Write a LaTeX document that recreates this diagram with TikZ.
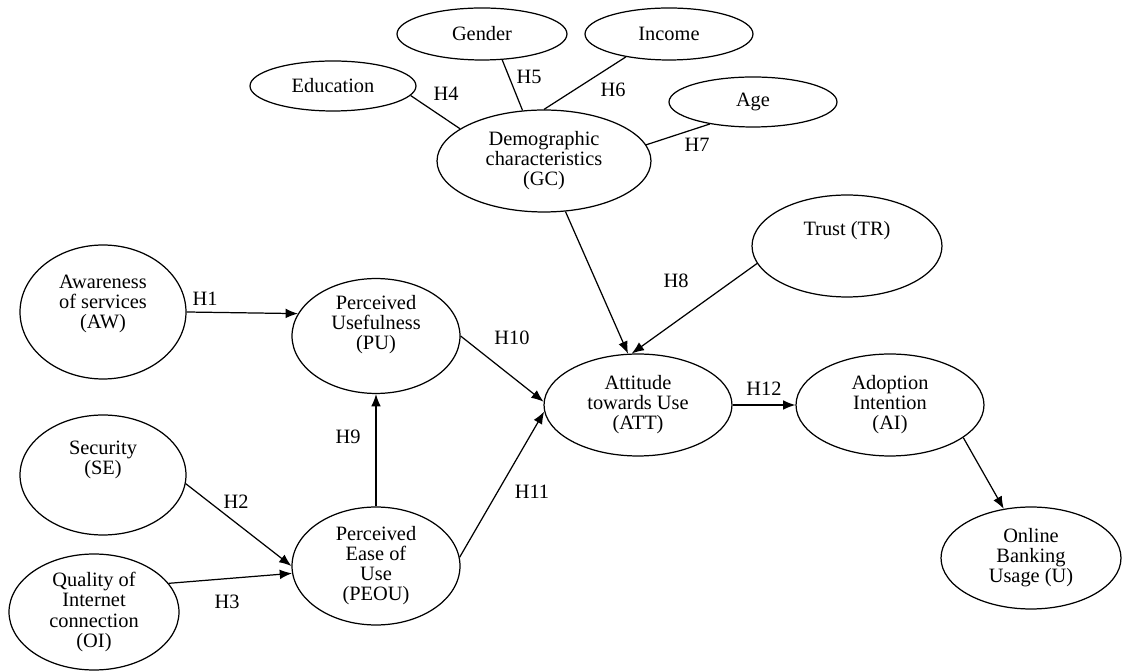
\documentclass[tikz,border=0pt]{standalone}
\usepackage{fontspec}
\setmainfont{Liberation Serif}
\usepackage{tikz}
\usetikzlibrary{shapes.geometric,arrows.meta}

\begin{document}
\begin{tikzpicture}[x=0.02cm,y=-0.02cm,font=\fontsize{11.6}{11.4}\selectfont,
	var/.style={shape=ellipse,draw=black,line width=0.7pt,inner sep=0pt,align=center},
	hyp/.style={-{Latex[length=7pt,width=5.5pt]},line width=0.7pt}]
	\useasboundingbox (0,0) rectangle (1122,671);
	\node[var,minimum width=3.32cm,minimum height=1cm] (edu) at (333,86) {Education};
	\node[var,minimum width=3.4cm,minimum height=1.04cm] (gen) at (482,34) {Gender};
	\node[var,minimum width=3.36cm,minimum height=1.04cm] (inc) at (669,34) {Income};
	\node[var,minimum width=3.36cm,minimum height=1cm] (age) at (753,102) {Age};
	\node[var,minimum width=4.28cm,minimum height=2.04cm] (gc) at (544,161) {Demographic\\characteristics\\(GC)};
	\node[var,minimum width=3.8cm,minimum height=2.04cm] (tr) at (847,246) {Trust (TR)\\[9pt]\mbox{}};
	\node[var,minimum width=3.32cm,minimum height=2.68cm] (aw) at (103,312) {Awareness\\of services\\(AW)\\\mbox{}};
	\node[var,minimum width=3.36cm,minimum height=2.08cm] (pu) at (376,336) {Perceived\\Usefulness\\(PU)\\[4pt]\mbox{}};
	\node[var,minimum width=3.32cm,minimum height=2.4cm] (se) at (103,475) {Security\\(SE)\\[8pt]\mbox{}};
	\node[var,minimum width=3.4cm,minimum height=2.32cm] (oi) at (94,612) {Quality of\\Internet\\connection\\(OI)};
	\node[var,minimum width=3.36cm,minimum height=2.36cm] (peou) at (376,566) {Perceived\\Ease of\\Use\\(PEOU)};
	\node[var,minimum width=3.76cm,minimum height=2.04cm] (att) at (638,405) {Attitude\\towards Use\\(ATT)};
	\node[var,minimum width=3.76cm,minimum height=2.04cm] (ai) at (890,405) {Adoption\\Intention\\(AI)};
	\node[var,minimum width=3.6cm,minimum height=2.04cm] (u) at (1031,558) {Online\\Banking\\Usage (U)};

	\foreach \a/\b in {edu.-7/gc.159,gen.-52/gc.113,inc.208/gc.north,age.207/gc.9}
		\draw[line width=0.7pt] (\a) -- (\b);

	\path[hyp]
		(aw.east) edge (pu.164)
		(se.-6) edge (peou.west)
		(oi.21) edge (peou.185)
		(peou.north) edge (pu.south)
		(pu.east) edge (att.178)
		(peou.6) edge (att.184)
		(gc.-67) edge (att.101)
		(tr.191) edge (att.97)
		(att.east) edge (ai.west)
		(ai.-24) edge (u.119);

	\foreach \t/\x/\y in {1/205/299,2/236/502,3/227/602,4/446/94,5/529/77,6/613/90,7/697/145,8/676/281,9/348/437,10/512/338,11/532/492,12/764/389}
		\node (h\t) at (\x,\y) {H\t};
\end{tikzpicture}
\end{document}
